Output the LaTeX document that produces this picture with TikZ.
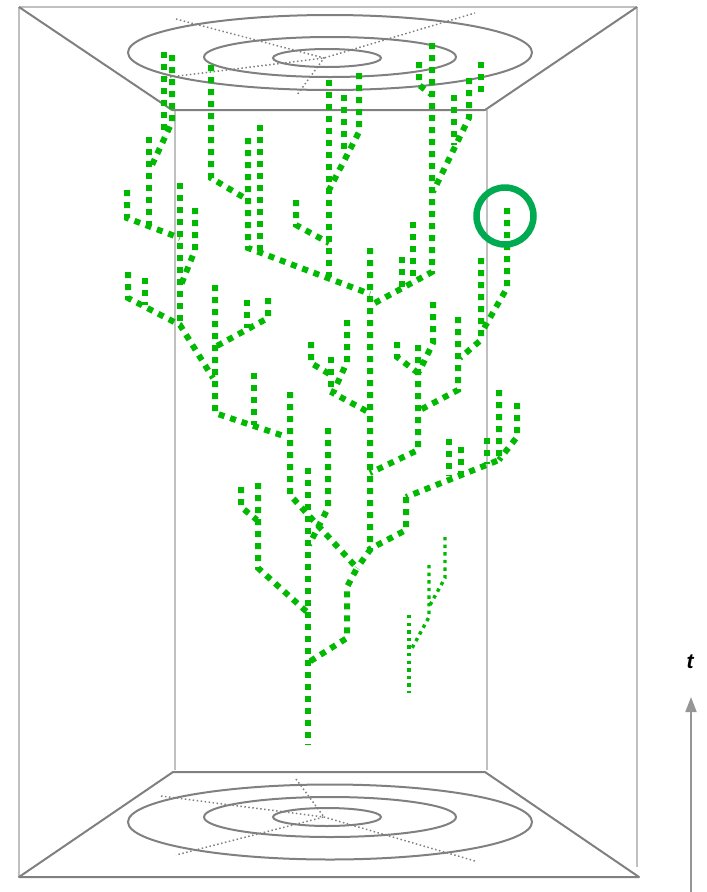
\documentclass[tikz,border=0pt]{standalone}
\usepackage{fontspec}
\setmainfont{Liberation Sans}
\usetikzlibrary{arrows.meta}
\definecolor{frameD}{RGB}{128,128,128}
\definecolor{frameL}{RGB}{192,192,192}
\definecolor{branch}{RGB}{0,185,0}
\definecolor{ring}{RGB}{0,170,80}
\definecolor{axisc}{RGB}{150,150,150}
\tikzset{
  darkedge/.style={frameD, line width=2pt, line join=round},
  lightedge/.style={frameL, line width=2pt},
  orbit/.style={frameD, line width=2pt},
  axisdots/.style={frameD, line width=1.5pt, dash pattern=on 1.5pt off 2.5pt},
  lineage/.style={branch, line width=6pt, dash pattern=on 6pt off 6pt, line join=miter},
  thinlineage/.style={branch, line width=3.4pt, dash pattern=on 3.4pt off 4.2pt},
}
\begin{document}
\begin{tikzpicture}[x=1pt,y=-1pt]
\useasboundingbox (0,0) rectangle (707,892);
% frame
\draw[lightedge] (19,7) -- (637,7);
\draw[lightedge] (19,7) -- (19,877);
\draw[lightedge] (637,7) -- (637,867);
\draw[lightedge] (175,110) -- (175,770);
\draw[lightedge] (487,110) -- (487,770);
\draw[darkedge] (19,7) -- (172,110) -- (485,110) -- (637,7);
\draw[darkedge] (19,877) -- (173,772) -- (485,772) -- (639,877) -- cycle;
% top disc
\draw[orbit] (330,52.5) ellipse [x radius=202pt, y radius=37.5pt];
\draw[orbit] (330,57) ellipse [x radius=126pt, y radius=20pt];
\draw[orbit] (327,58) ellipse [x radius=54pt, y radius=9pt];
\draw[axisdots] (162,78) -- (324,58) -- (475,13);
\draw[axisdots] (176,19) -- (324,58) -- (297,95);
% bottom disc
\draw[orbit] (330,822) ellipse [x radius=202pt, y radius=37.5pt];
\draw[orbit] (330,817) ellipse [x radius=126pt, y radius=20pt];
\draw[orbit] (327,817) ellipse [x radius=54pt, y radius=9pt];
\draw[axisdots] (161,796) -- (324,817) -- (475,861);
\draw[axisdots] (296,779) -- (324,817) -- (176,855);
% lineages
\draw[lineage] (164,52) -- (164,136);
\draw[lineage] (172,55) -- (172,122) -- (152,165);
\draw[lineage] (149,137) -- (149,226);
\draw[lineage] (127,190) -- (127,218) -- (180,238);
\draw[lineage] (180,183) -- (180,325);
\draw[lineage] (195,208) -- (195,250) -- (181,285);
\draw[lineage] (128,272) -- (128,298) -- (180,325) -- (213,378);
\draw[lineage] (145,278) -- (145,305);
\draw[lineage] (215,285) -- (215,413) -- (287,437);
\draw[lineage] (247,300) -- (247,328);
\draw[lineage] (268,298) -- (268,318) -- (215,347);
\draw[lineage] (254,373) -- (254,425);
\draw[lineage] (290,392) -- (290,495) -- (357,568) -- (347,587) -- (347,638) -- (309,662);
\draw[lineage] (211,65) -- (211,178) -- (248,200);
\draw[lineage] (248,138) -- (248,248) -- (370,294);
\draw[lineage] (260,125) -- (260,252);
\draw[lineage] (296,200) -- (296,225) -- (329,243);
\draw[lineage] (329,80) -- (329,277);
\draw[lineage] (344,95) -- (344,150);
\draw[lineage] (359,73) -- (359,132) -- (329,190);
\draw[lineage] (370,248) -- (370,550) -- (357,568);
\draw[lineage] (432,43) -- (432,272) -- (373,304);
\draw[lineage] (419,62) -- (419,85) -- (432,95);
\draw[lineage] (469,78) -- (469,118) -- (433,192);
\draw[lineage] (454,95) -- (454,145);
\draw[lineage] (481,62) -- (481,95);
\draw[lineage] (413,222) -- (413,282);
\draw[lineage] (402,257) -- (402,288);
\draw[lineage] (507,208) -- (507,288) -- (483,330);
\draw[lineage] (481,258) -- (481,340) -- (460,358);
\draw[lineage] (458,317) -- (458,390) -- (420,410);
\draw[lineage] (433,302) -- (433,343) -- (419,372);
\draw[lineage] (418,345) -- (418,450) -- (370,473);
\draw[lineage] (397,342) -- (397,357) -- (418,373);
\draw[lineage] (347,320) -- (347,362) -- (333,393) -- (370,413);
\draw[lineage] (311,342) -- (311,363) -- (331,375);
\draw[lineage] (331,357) -- (331,390);
\draw[lineage] (406,497) -- (406,530) -- (368,550);
\draw[lineage] (517,403) -- (517,437) -- (499,460);
\draw[lineage] (499,390) -- (499,460) -- (406,497);
\draw[lineage] (449,439) -- (449,476);
\draw[lineage] (461,447) -- (461,474);
\draw[lineage] (487,438) -- (487,464);
\draw[lineage] (328,428) -- (328,508) -- (309,545);
\draw[lineage] (308,468) -- (308,745);
\draw[lineage] (258,483) -- (258,568) -- (307,612);
\draw[lineage] (241,487) -- (241,507) -- (257,520);
\draw[thinlineage] (409,615) -- (409,693);
\draw[thinlineage] (429,565) -- (429,617) -- (411,650);
\draw[thinlineage] (445,537) -- (445,578) -- (430,605);
% highlight ring
\draw[ring, line width=6.5pt] (505,216) circle [radius=28.5pt];
% time axis
\coordinate (tfoot) at (691,892);
\coordinate (thead) at (691,697);
\draw[axisc, line width=2pt, -{Triangle[length=15pt,width=11pt]}] (tfoot) -- (thead);
\node[font=\bfseries\itshape\fontsize{21}{24}\selectfont, text=black] (tlabel) at (690,662) {t};
\end{tikzpicture}
\end{document}
